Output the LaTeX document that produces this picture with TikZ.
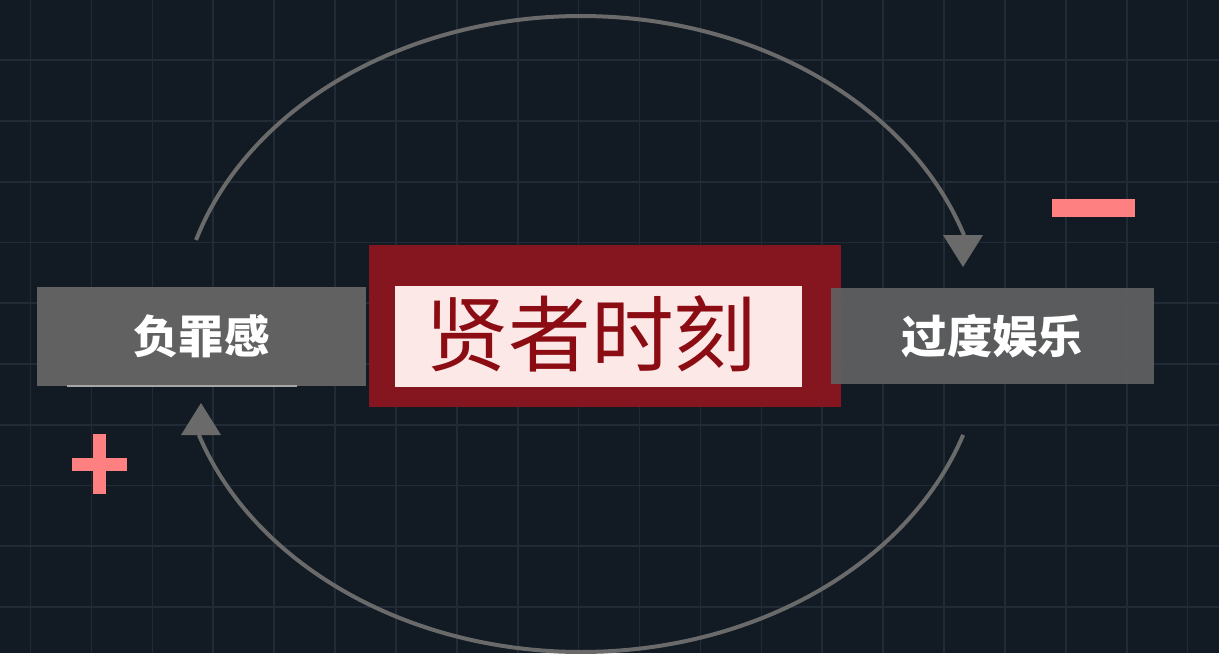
\documentclass[tikz,border=0pt]{standalone}
\usepackage{fontspec}
\newfontfamily\cjk{Noto Sans CJK SC}
\definecolor{bgc}{HTML}{121A23}
\definecolor{gridc}{HTML}{212B36}
\definecolor{arcc}{HTML}{6A6A6A}
\definecolor{boxg}{HTML}{616161}
\definecolor{redbox}{HTML}{85161F}
\definecolor{pinkbox}{HTML}{FDE8E8}
\definecolor{titlec}{HTML}{8B0C12}
\definecolor{signc}{HTML}{FF8080}
\tikzset{
  graybox/.style={fill=boxg, draw=none, inner sep=0pt, text=white, font=\cjk\bfseries\fontsize{34}{34}\selectfont},
  arcline/.style={draw=arcc, line width=3pt},
  tip/.style={fill=arcc, draw=none},
  sign/.style={fill=signc, draw=none}
}
\begin{document}
\begin{tikzpicture}[x=0.75pt,y=-0.75pt]
\fill[bgc] (0,0) rectangle (1219,653);
\useasboundingbox (0,0) rectangle (1219,653);
% grid
\foreach \k in {0,...,19} {\draw[gridc, line width=1.2pt] ({30.5+60.9*\k},0) -- ({30.5+60.9*\k},653);}
\foreach \k in {0,...,10} {\draw[gridc, line width=1.2pt] (0,{60.75*\k-0.5}) -- (1219,{60.75*\k-0.5});}
% boxes
\node[graybox, minimum width=246.75pt, minimum height=74.25pt] (guilt) at (201.5,336.5) {负罪感};
\draw[gray!70!white, line width=0.8pt] (67,386) -- (297,386);
\node[fill=redbox, inner sep=0pt, minimum width=354pt, minimum height=121.5pt] (red) at (605,326) {};
\node[fill=pinkbox, inner sep=0pt, minimum width=305.25pt, minimum height=75.75pt] (pink) at (598.5,336.5) {};
\node[text=titlec, font=\cjk\fontsize{62}{62}\selectfont, inner sep=0pt] (title) at (591,334) {贤者时刻};
\node[graybox, fill opacity=0.92, text opacity=1, minimum width=242.25pt, minimum height=72pt] (fun) at (992.5,336) {过度娱乐};
% arcs
\coordinate (topstart) at ({581+403*cos(197.2)},{334+318*sin(197.2)});
\coordinate (botstart) at ({581+403*cos(18.5)},{334+318*sin(18.5)});
\draw[arcline] plot[domain=197.2:341.9, samples=120] ({581+403*cos(\x)},{334+318*sin(\x)});
\draw[arcline] plot[domain=18.5:161.5, samples=120] ({581+403*cos(\x)},{334+318*sin(\x)});
\coordinate (tipA) at (963,267);
\coordinate (tipB) at (201,403);
\fill[tip] (943,235) -- (983,235) -- (tipA) -- cycle;
\fill[tip] (181,435) -- (221,435) -- (tipB) -- cycle;
% signs
\fill[sign] (1052,199) rectangle (1135,217);
\fill[sign] (72,458) rectangle (127,471);
\fill[sign] (93,434) rectangle (106,494);
\end{tikzpicture}
\end{document}
